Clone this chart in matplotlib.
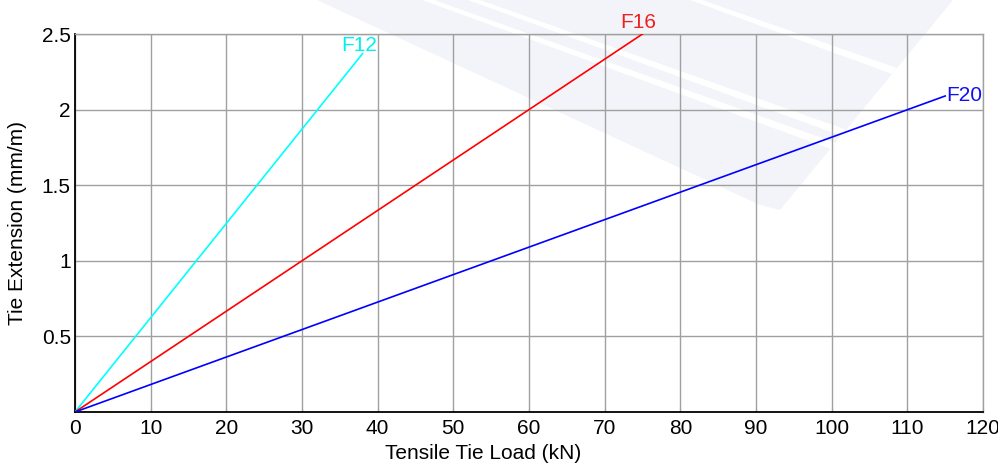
import matplotlib
matplotlib.use('Agg')
import matplotlib.pyplot as plt
from matplotlib.patches import Polygon

plt.rcParams['font.family'] = ['Liberation Sans', 'DejaVu Sans']

# data
names = ['F12', 'F16', 'F20']
colors = ['#00ffff', '#ff0000', '#0000ff']
label_colors = ['#00f0f0', '#f02020', '#1010f0']
f12_load = [0, 38]
f12_ext = [0, 2.37]
f16_load = [0, 75]
f16_ext = [0, 2.5]
f20_load = [0, 115]
f20_ext = [0, 2.09]
x_ticks = list(range(0, 121, 10))
y_ticks = [0.5, 1, 1.5, 2, 2.5]
y_ticklabels = ['0.5', '1', '1.5', '2', '2.5']

W, H = 998, 465
fig = plt.figure(figsize=(W / 100, H / 100), dpi=100)

# faint watermark behind the plot (pixel coords, y down)
def fpoly(pts, color):
    p = Polygon([(x / W, 1 - y / H) for x, y in pts], closed=True,
                transform=fig.transFigure, facecolor=color, edgecolor='none', zorder=0)
    fig.add_artist(p)

wm = '#f3f4f9'
fpoly([(317, 0), (953, 0), (780, 210), (760, 205)], wm)
fpoly([(422, 0), (434, 0), (836, 143), (831, 149)], 'white')
fpoly([(468, 0), (480, 0), (847, 130), (842, 136)], 'white')
fpoly([(690, 0), (702, 0), (897, 68), (892, 74)], 'white')

ax = fig.add_axes([75 / W, 1 - 412 / H, 908 / W, 378 / H])
ax.patch.set_alpha(0)

series = [(f12_load, f12_ext), (f16_load, f16_ext), (f20_load, f20_ext)]
for (xs, ys), c in zip(series, colors):
    ax.plot(xs, ys, color=c, lw=1.2, zorder=3)

fs = 15
ax.text(f12_load[-1] - 0.5, f12_ext[-1] - 0.01, names[0], color=label_colors[0],
        fontsize=fs, ha='center', va='bottom', clip_on=False)
ax.text(f16_load[-1] - 0.6, f16_ext[-1] + 0.01, names[1], color=label_colors[1],
        fontsize=fs, ha='center', va='bottom', clip_on=False)
ax.text(f20_load[-1] + 0.1, f20_ext[-1], names[2], color=label_colors[2],
        fontsize=fs, ha='left', va='center', clip_on=False)

ax.set_xlim(0, 120)
ax.set_ylim(0, 2.5)
ax.set_xticks(x_ticks)
ax.set_yticks(y_ticks)
ax.set_yticklabels(y_ticklabels)
ax.grid(True, color='#a0a0a0', lw=1)
ax.set_axisbelow(True)
ax.tick_params(labelsize=fs, length=3, direction='in', color='#a0a0a0')
ax.tick_params(axis='x', pad=5)
ax.tick_params(axis='y', pad=3)

for s in ['left', 'bottom']:
    ax.spines[s].set_color('black')
    ax.spines[s].set_linewidth(1.3)
for s in ['top', 'right']:
    ax.spines[s].set_color('#a0a0a0')
    ax.spines[s].set_linewidth(1)

ax.set_xlabel('Tensile Tie Load (kN)', fontsize=fs)
ax.set_ylabel('Tie Extension (mm/m)', fontsize=fs)
ax.xaxis.set_label_coords(408 / 908, -32 / 378)
ax.yaxis.set_label_coords(-48 / 908, 0.5)

fig.savefig('out.png', dpi=100)
